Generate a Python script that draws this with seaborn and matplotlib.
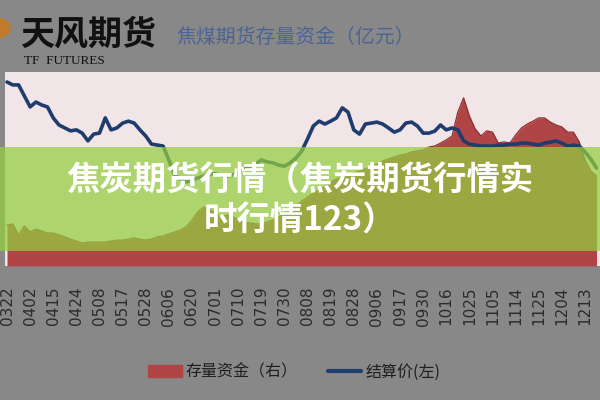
import numpy as np
import matplotlib
matplotlib.use("Agg")
import matplotlib.pyplot as plt
from matplotlib.patches import Rectangle, Ellipse, Patch
from matplotlib.lines import Line2D
import seaborn as sns

# ---------------- data ----------------
tick_labels = ["0322", "0402", "0415", "0424", "0508", "0517", "0528", "0606",
               "0620", "0701", "0710", "0719", "0730", "0808", "0819", "0828",
               "0906", "0917", "0930", "1016", "1025", "1105", "1114", "1125",
               "1204", "1213"]

# settlement price (left axis)
price = [1369, 1360, 1360, 1326, 1292, 1307, 1298, 1292, 1258, 1236,
         1227, 1218, 1221, 1211, 1187, 1208, 1211, 1258, 1221, 1227,
         1242, 1248, 1242, 1221, 1202, 1177, 1174, 1171, 1128, 1081,
         1069, 1060, 1066, 1072, 1078, 1085, 1085, 1081, 1078, 1081,
         1091, 1100, 1106, 1115, 1128, 1122, 1119, 1112, 1109, 1119,
         1134, 1156, 1193, 1233, 1248, 1239, 1248, 1258, 1289, 1276,
         1221, 1208, 1239, 1242, 1245, 1239, 1227, 1214, 1221, 1242,
         1245, 1233, 1211, 1211, 1217, 1236, 1221, 1227, 1221, 1187,
         1177, 1174, 1171, 1171, 1171, 1174, 1174, 1177, 1177, 1180,
         1180, 1177, 1174, 1180, 1183, 1187, 1180, 1171, 1174, 1171,
         1153, 1131, 1103]

# open-interest funds, 亿元 (right axis)
funds = [12.7, 13.0, 9.6, 12.4, 10.5, 11.4, 10.8, 10.2, 10.2, 9.6,
         9.0, 8.3, 7.7, 7.1, 7.4, 7.4, 7.4, 7.4, 7.7, 8.0,
         8.0, 8.3, 8.7, 8.3, 8.0, 8.3, 9.0, 9.3, 9.9, 10.5,
         11.1, 12.1, 14.2, 16.7, 18.2, 17.6, 16.4, 15.2, 15.8, 15.2,
         14.5, 13.6, 13.3, 13.0, 13.0, 13.6, 14.2, 15.2, 16.1, 17.0,
         18.6, 20.1, 21.3, 22.6, 23.5, 24.7, 26.0, 26.9, 27.5, 28.1,
         28.8, 29.4, 30.0, 30.9, 31.5, 32.5, 33.1, 33.7, 34.3, 34.6,
         35.3, 35.6, 35.9, 36.8, 37.1, 38.0, 39.0, 40.2, 47.6, 52.0,
         46.4, 42.4, 40.2, 41.8, 41.4, 38.0, 38.4, 38.0, 40.5, 42.7,
         43.9, 44.8, 45.8, 45.8, 44.5, 43.6, 43.0, 41.4, 41.4, 38.4,
         32.8, 29.4, 27.8]

legend_labels = ["存量资金（右）", "结算价(左)"]
header_logo = "天风期货"
header_sub = "TF  FUTURES"
chart_title = "焦煤期货存量资金（亿元）"
banner_line1 = "焦炭期货行情（焦炭期货行情实"
banner_line2 = "时行情123）"

# ---------------- style ----------------
sns.set_theme(style="white")
plt.rcParams["font.family"] = ["Noto Sans CJK SC", "DejaVu Sans"]

BG = "#888888"
PINK = "#f2e5e7"
RED = "#b04545"
RED_EDGE = "#8c3030"
BLUE = "#1e3c6e"
GREEN = "#94ce3f"

W, H = 600, 400
fig = plt.figure(figsize=(6, 4), dpi=100, facecolor=BG)

def fx(px):
    return px / W

def fy(py):
    return 1 - py / H

left, right, top, bottom = 5, 600, 72, 266
ax2 = fig.add_axes([fx(left), fy(bottom), fx(right - left), (bottom - top) / H])
ax = ax2.twinx()

idx = np.arange(len(price))

# funds area (right axis, drawn underneath)
ax2.set_facecolor(PINK)
ax2.fill_between(idx, funds, 0, color=RED, linewidth=0, zorder=2)
ax2.plot(idx, funds, color=RED_EDGE, lw=0.9, zorder=3)
ax2.set_ylim(0, 60)

# price line (left axis, on top)
ax.set_zorder(ax2.get_zorder() + 1)
ax.patch.set_visible(False)
sns.lineplot(x=idx, y=price, ax=ax, color=BLUE, lw=2.6, legend=False)
ax.set_ylim(800, 1400)

for a in (ax, ax2):
    a.set_xlim(-0.35, 102.6)
    a.set_yticks([])
    a.set_ylabel("")
    for s in a.spines.values():
        s.set_visible(False)

ax.tick_params(axis="x", which="both", length=0, labelbottom=False)
ax2.set_xticks(idx[::4][:len(tick_labels)])
ax2.set_xticklabels(tick_labels, rotation=90, fontsize=11, color="#2b2b2b",
                    family="DejaVu Sans")
ax2.tick_params(axis="x", length=0, pad=15)

# ---------------- header ----------------
fig.patches.append(Ellipse((-0.03, 3.72), 0.26, 0.2, transform=fig.dpi_scale_trans,
                           color="#c07a2a", zorder=1))
fig.text(fx(21), fy(34.5), header_logo, fontsize=24.5, fontweight="bold",
         color="#111111", ha="left", va="center")
fig.text(fx(24), fy(61.5), header_sub, fontsize=9.5, family="Liberation Serif",
         color="#111111", ha="left", va="center")
fig.text(fx(176), fy(37.5), chart_title, fontsize=14.3, color="#4b6494",
         ha="left", va="center")

# ---------------- legend ----------------
handles = [Patch(facecolor=RED, edgecolor=RED),
           Line2D([0], [0], color=BLUE, lw=3)]
leg = fig.legend(handles, legend_labels, loc="center left",
                 bbox_to_anchor=(fx(148), fy(372)), bbox_transform=fig.transFigure,
                 ncol=2, frameon=False, fontsize=11.5, handlelength=2.1,
                 handleheight=0.75, handletextpad=0.25, columnspacing=1.9,
                 borderpad=0, borderaxespad=0)
for t in leg.get_texts():
    t.set_color("#1e1e1e")

# ---------------- banner overlay ----------------
fig.patches.append(Rectangle((0, fy(251)), 1, (251 - 147) / H,
                             transform=fig.transFigure, color=GREEN, alpha=0.72,
                             linewidth=0, zorder=5))
fig.text(0.5, fy(181), banner_line1, fontsize=24, fontweight="bold",
         color="white", ha="center", va="center", zorder=6)
fig.text(0.5, fy(221), banner_line2, fontsize=24, fontweight="bold",
         color="white", ha="center", va="center", zorder=6)

fig.savefig("out.png", dpi=100, facecolor=BG)
